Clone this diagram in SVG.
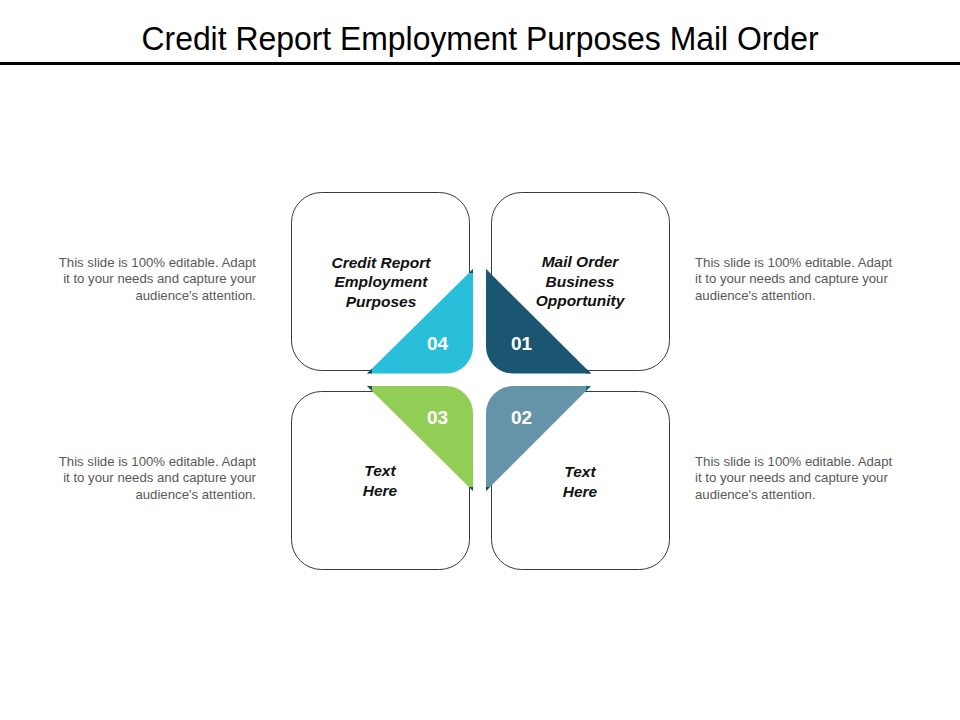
<svg xmlns="http://www.w3.org/2000/svg" width="960" height="720" viewBox="0 0 960 720">
<style>
.box{fill:#fff;stroke:#3a3a3a;stroke-width:1}
.lbl{font-family:"Liberation Sans",Arial,sans-serif;font-size:15.5px;font-weight:bold;font-style:italic;fill:#111;text-anchor:middle}
.num{font-family:"Liberation Sans",Arial,sans-serif;font-size:19px;font-weight:bold;fill:#fff;text-anchor:middle}
.desc{font-family:"Liberation Sans",Arial,sans-serif;font-size:13.2px;fill:#595959}
.r{text-anchor:end}
.tip{fill:#1d4a63}
</style>
<rect width="960" height="720" fill="#fff"/>
<text x="480" y="50" font-family="'Liberation Sans',Arial,sans-serif" font-size="33" fill="#000" text-anchor="middle" textLength="677" lengthAdjust="spacingAndGlyphs">Credit Report Employment Purposes Mail Order</text>
<rect x="0" y="62" width="960" height="3" fill="#000"/>

<g id="box-tl"><rect class="box" x="291.5" y="192.5" width="178" height="178" rx="30"/></g>
<g id="box-tr"><rect class="box" x="491.5" y="192.5" width="178" height="178" rx="30"/></g>
<g id="box-bl"><rect class="box" x="291.5" y="391.5" width="178" height="178" rx="30"/></g>
<g id="box-br"><rect class="box" x="491.5" y="391.5" width="178" height="178" rx="30"/></g>

<g id="q04">
<path d="M473,269 L473,346 A27,27 0 0 1 446,373.5 L367,373.5 Z" fill="#29bed9"/>
<polygon class="tip" points="473,269 473,273 469,273"/>
<polygon class="tip" points="367,373.5 372,368.5 372,373.5"/>
<text class="num" x="437.5" y="350">04</text>
</g>
<g id="q01">
<path d="M486,269 L591,373.5 L513,373.5 A27,27 0 0 1 486,346 Z" fill="#1a5672"/>
<polygon points="486,269 490,273 486,273" fill="#1a6e7a"/>
<polygon class="tip" points="591,373.5 586,368.5 586,373.5"/>
<text class="num" x="521.5" y="350">01</text>
</g>
<g id="q03">
<path d="M367,386 L446,386 A27,27 0 0 1 473,413 L473,491 Z" fill="#92cd55"/>
<polygon class="tip" points="367,386 372,386 372,391"/>
<polygon class="tip" points="473,491 469,487 473,487"/>
<text class="num" x="437.5" y="423.5">03</text>
</g>
<g id="q02">
<path d="M486,491 L486,413 A27,27 0 0 1 513,386 L591,386 Z" fill="#6594a9"/>
<polygon points="591,386 586,386 586,391" fill="#1a6e7a"/>
<polygon class="tip" points="486,491 490,487 486,487"/>
<text class="num" x="521.5" y="423.5">02</text>
</g>

<g id="label-tl"><text class="lbl" x="381" y="267.5">Credit Report</text><text class="lbl" x="381" y="287">Employment</text><text class="lbl" x="381" y="306.5">Purposes</text></g>
<g id="label-tr"><text class="lbl" x="580" y="267">Mail Order</text><text class="lbl" x="580" y="286.5">Business</text><text class="lbl" x="580" y="306">Opportunity</text></g>
<g id="label-bl"><text class="lbl" x="380" y="476">Text</text><text class="lbl" x="380" y="496">Here</text></g>
<g id="label-br"><text class="lbl" x="580" y="477">Text</text><text class="lbl" x="580" y="497">Here</text></g>

<g id="desc-tl" class="desc r"><text x="256" y="266.5">This slide is 100% editable. Adapt</text><text x="256" y="283">it to your needs and capture your</text><text x="256" y="299.5">audience's attention.</text></g>
<g id="desc-tr" class="desc"><text x="695" y="266.5">This slide is 100% editable. Adapt</text><text x="695" y="283">it to your needs and capture your</text><text x="695" y="299.5">audience's attention.</text></g>
<g id="desc-bl" class="desc r"><text x="256" y="465.5">This slide is 100% editable. Adapt</text><text x="256" y="482">it to your needs and capture your</text><text x="256" y="498.5">audience's attention.</text></g>
<g id="desc-br" class="desc"><text x="695" y="465.5">This slide is 100% editable. Adapt</text><text x="695" y="482">it to your needs and capture your</text><text x="695" y="498.5">audience's attention.</text></g>
<g id="connectors"/>
</svg>
